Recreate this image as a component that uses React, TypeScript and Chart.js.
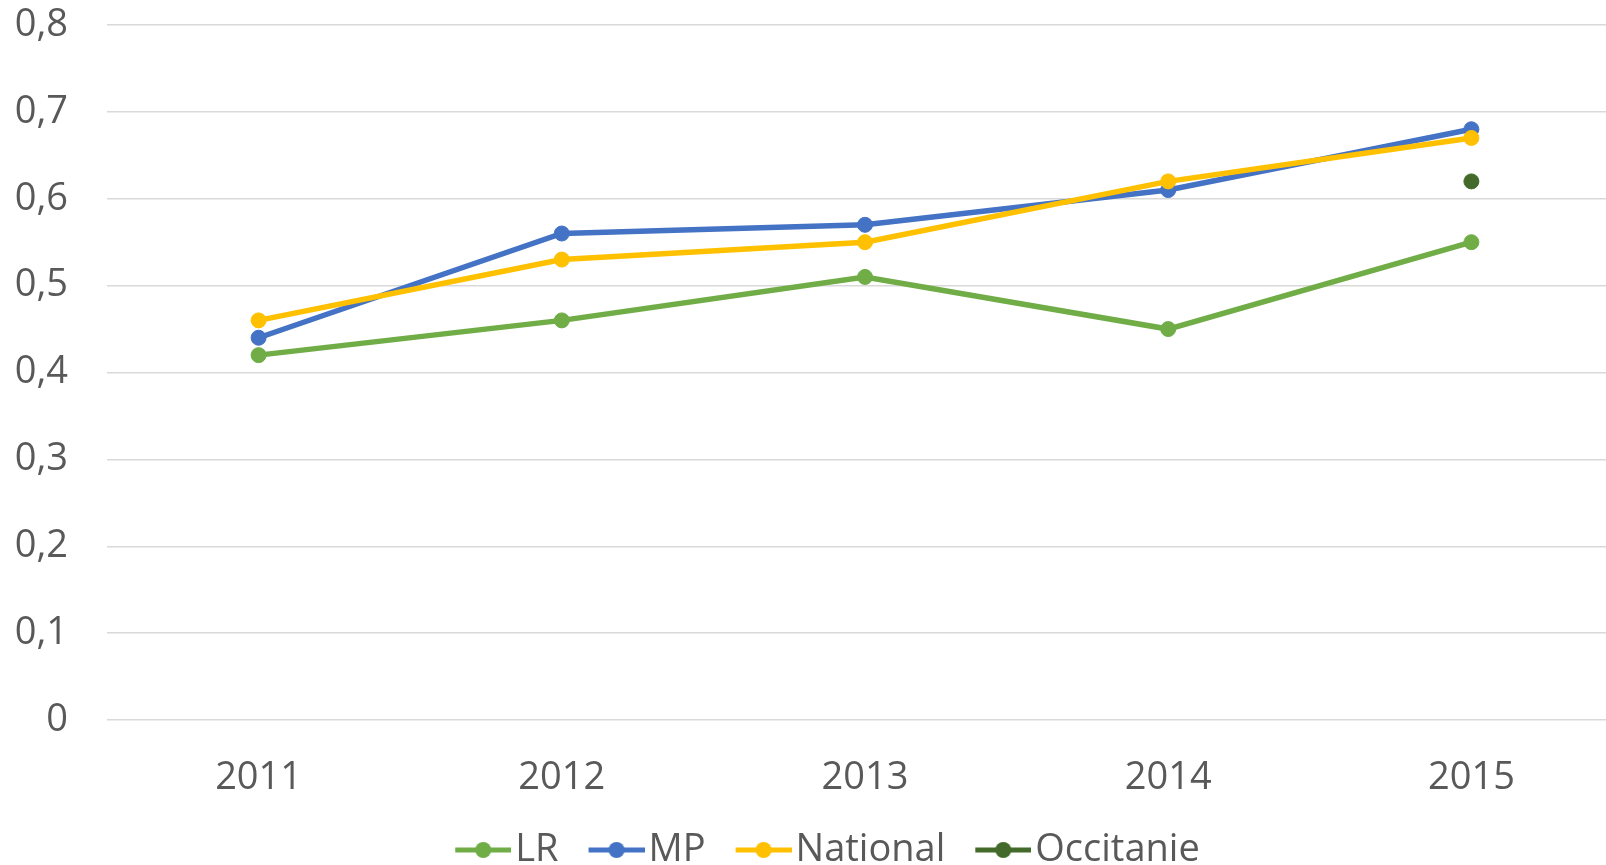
import React, { useEffect, useRef } from "react";
import { Chart, registerables } from "chart.js";

Chart.register(...registerables);

// Category labels and series values
const years = ["2011", "2012", "2013", "2014", "2015"];
const lrValues = [0.42, 0.46, 0.51, 0.45, 0.55];
const mpValues = [0.44, 0.56, 0.57, 0.61, 0.68];
const nationalValues = [0.46, 0.53, 0.55, 0.62, 0.67];
const occitanieValues = [null, null, null, null, 0.62];
const yTickLabels = ["0", "0,1", "0,2", "0,3", "0,4", "0,5", "0,6", "0,7", "0,8"];

const FONT = "'Open Sans', 'Noto Sans', sans-serif";
const TEXT = "#595959";
const FONT_SIZE = 38;
const CANVAS_W = 1655;
const CANVAS_H = 879;
const PLOT_TOP = 25;
const RIGHT_MARGIN = 32;

// Legend swatch: a short line with a dot in its middle, padded on the left so
// the visible line starts at the legend box's left edge.
function legendIcon(color: string): HTMLCanvasElement {
  const c = document.createElement("canvas");
  c.width = 71;
  c.height = 20;
  const ctx = c.getContext("2d")!;
  ctx.strokeStyle = color;
  ctx.lineWidth = 5;
  ctx.beginPath();
  ctx.moveTo(15, 10);
  ctx.lineTo(71, 10);
  ctx.stroke();
  ctx.fillStyle = color;
  ctx.beginPath();
  ctx.arc(43, 10, 8, 0, Math.PI * 2);
  ctx.fill();
  return c;
}

function series(label: string, data: (number | null)[], color: string, order: number) {
  return {
    label,
    data,
    borderColor: color,
    backgroundColor: color,
    pointBackgroundColor: color,
    pointBorderColor: color,
    borderWidth: 5.5,
    pointRadius: 7.5,
    pointBorderWidth: 1,
    pointHoverRadius: 7.5,
    tension: 0,
    order,
  };
}

// Keeps the top of the plot area at a fixed pixel row and centres the legend
// on the whole canvas rather than on the padded layout box.
const layoutTweaks = {
  id: "layoutTweaks",
  afterLayout(chart: any) {
    const diff = chart.chartArea.top - PLOT_TOP;
    if (Math.abs(diff) > 0.5 && (chart.$pinCount || 0) < 3) {
      chart.$pinCount = (chart.$pinCount || 0) + 1;
      chart.config.options.layout.padding.top -= diff;
      chart.update();
      return;
    }
    const lg = chart.legend;
    if (lg) {
      const shift = (chart.width - (lg.left + lg.right)) / 2;
      lg.left += shift;
      lg.right += shift;
    }
  },
};

export default function App() {
  const ref = useRef<HTMLCanvasElement>(null);

  useEffect(() => {
    document.body.style.margin = "0";
    document.body.style.overflow = "hidden";
    const canvas = ref.current!;
    const chart = new Chart(canvas, {
      type: "line",
      data: {
        labels: years,
        datasets: [
          series("LR", lrValues, "#70AD47", 4),
          series("MP", mpValues, "#4472C4", 3),
          series("National", nationalValues, "#FFC000", 2),
          series("Occitanie", occitanieValues, "#436A2B", 1),
        ],
      },
      plugins: [layoutTweaks],
      options: {
        animation: false,
        responsive: false,
        devicePixelRatio: 1,
        layout: { padding: { top: PLOT_TOP, right: RIGHT_MARGIN, left: 0, bottom: 0 } },
        plugins: {
          tooltip: { enabled: false },
          legend: {
            position: "bottom",
            labels: {
              usePointStyle: true,
              pointStyleWidth: 41,
              padding: 30,
              color: TEXT,
              font: { family: FONT, size: FONT_SIZE },
              generateLabels: (c: any) =>
                c.data.datasets.map((ds: any, i: number) => ({
                  text: ds.label,
                  fillStyle: ds.borderColor,
                  strokeStyle: ds.borderColor,
                  lineWidth: 0,
                  hidden: false,
                  pointStyle: legendIcon(ds.borderColor),
                  datasetIndex: i,
                  fontColor: TEXT,
                })),
            },
          },
        },
        scales: {
          x: {
            offset: true,
            grid: { display: false, drawTicks: false },
            border: { display: false },
            ticks: { color: TEXT, font: { family: FONT, size: FONT_SIZE }, padding: 35 },
            afterFit: (s: any) => {
              s.height = 81;
              s.paddingTop = 0;
              s.paddingBottom = 0;
            },
          },
          y: {
            min: 0,
            max: 0.8,
            grid: { color: "#D9D9D9", lineWidth: 1.5, drawTicks: false },
            border: { display: false },
            ticks: {
              stepSize: 0.1,
              color: TEXT,
              font: { family: FONT, size: FONT_SIZE },
              padding: 39,
              callback: (_v: any, i: number) => yTickLabels[i],
            },
            afterFit: (s: any) => {
              s.width = 107;
              s.paddingTop = 0;
              s.paddingBottom = 0;
            },
          },
        },
      },
    });
    return () => chart.destroy();
  }, []);

  return (
    <div style={{ position: "relative", width: CANVAS_W, height: CANVAS_H, background: "#fff" }}>
      <canvas ref={ref} width={CANVAS_W} height={CANVAS_H} style={{ display: "block" }} />
    </div>
  );
}
